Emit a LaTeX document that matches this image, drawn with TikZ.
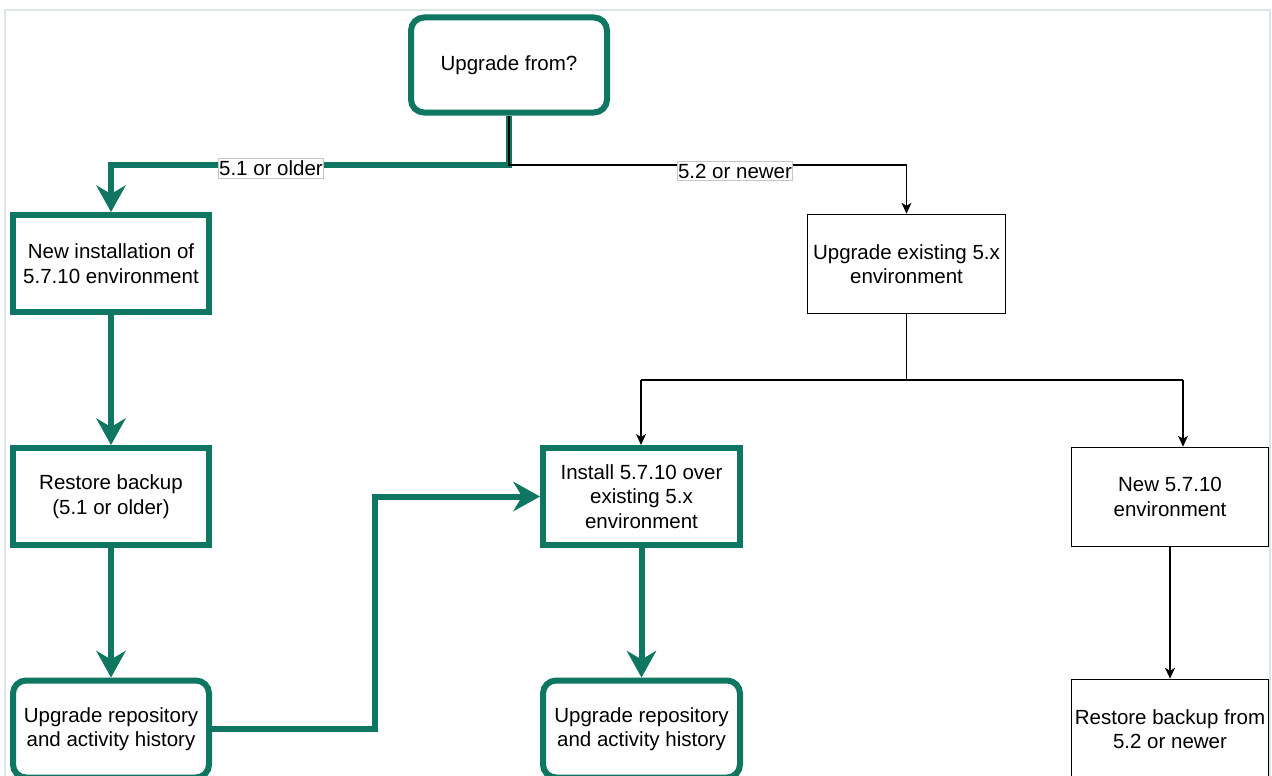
\documentclass[tikz,border=0pt]{standalone}
\usepackage{fontspec}
\setmainfont{Liberation Sans}
\usetikzlibrary{arrows.meta}
\definecolor{grn}{RGB}{14,118,97}
\definecolor{frame}{RGB}{222,229,229}
\tikzset{
  base/.style={align=center, font=\fontsize{20.5}{24.5}\selectfont, inner sep=0pt},
  gbox/.style={base, draw=grn, line width=6pt, minimum width=196pt, minimum height=97pt, fill=white},
  grbox/.style={gbox, rounded corners=13pt},
  bbox/.style={base, draw=black, line width=1.5pt, minimum width=198pt, minimum height=99pt, fill=white},
  gline/.style={draw=grn, line width=6pt},
  garrow/.style={gline, -{Stealth[length=27pt,width=30pt,inset=9pt,line width=0pt]}},
  bline/.style={draw=black, line width=1.5pt},
  barrow/.style={bline, -{Stealth[length=11pt,width=10pt,inset=3pt,line width=0pt]}},
  lbl/.style={base, fill=white, draw=gray!45, line width=0.6pt, inner xsep=0.5pt, inner ysep=2.5pt}
}
\begin{document}
\begin{tikzpicture}[x=1pt,y=-1pt]
\clip (0,0) rectangle (1272,776);
\fill[white] (0,0) rectangle (1272,776);
\draw[frame, line width=2pt] (5,820) -- (5,10) -- (1270,10) -- (1270,820);

\node[grbox, minimum height=95pt] (up) at (509,65) {Upgrade from?};
\node[gbox] (ni) at (111,263.5) {New installation of\\5.7.10 environment};
\node[bbox] (ue) at (906.5,264) {Upgrade existing 5.x\\environment};
\node[gbox] (rb) at (111,496.5) {Restore backup\\(5.1 or older)};
\node[gbox, minimum width=197pt] (ins) at (641.5,496.5) {Install 5.7.10 over\\existing 5.x\\environment};
\node[bbox, minimum width=197pt] (n5) at (1170,497) {New 5.7.10\\environment};
\node[grbox] (ur1) at (111,729) {Upgrade repository\\and activity history};
\node[grbox, minimum width=197pt] (ur2) at (641.5,729) {Upgrade repository\\and activity history};
\node[bbox, minimum width=197pt] (rbn) at (1170,729) {Restore backup from\\5.2 or newer};

\coordinate (j) at (509,165);
\coordinate (k) at (906.5,380);
\coordinate (b1) at (641,380);
\coordinate (b2) at (1183,380);
\coordinate (m1) at (375,729);
\coordinate (m2) at (375,496.5);

% green path to the left
\draw[garrow] (up.south) -- (j) -| (ni.north);
% black path to the right
\draw[barrow] (up.south) -- (j) -| (ue.north);
\draw[bline] (up.south) -- (j);

\node[lbl] (l1) at (271,168) {5.1 or older};
\node[lbl] (l2) at (735,171) {5.2 or newer};

\draw[garrow] (ni.south) -- (rb.north);
\draw[garrow] (rb.south) -- (ur1.north);
\draw[garrow] (ur1.east) -- (m1) -- (m2) -- (ins.west);
\draw[garrow] (ins.south) -- (ur2.north);

\draw[bline] (ue.south) -- (k);
\draw[bline] (b1) -- (b2);
\draw[barrow] (b1) -- (b1 |- ins.north);
\draw[barrow] (b2) -- (b2 |- n5.north);
\draw[barrow] (n5.south) -- (rbn.north);
\end{tikzpicture}
\end{document}
